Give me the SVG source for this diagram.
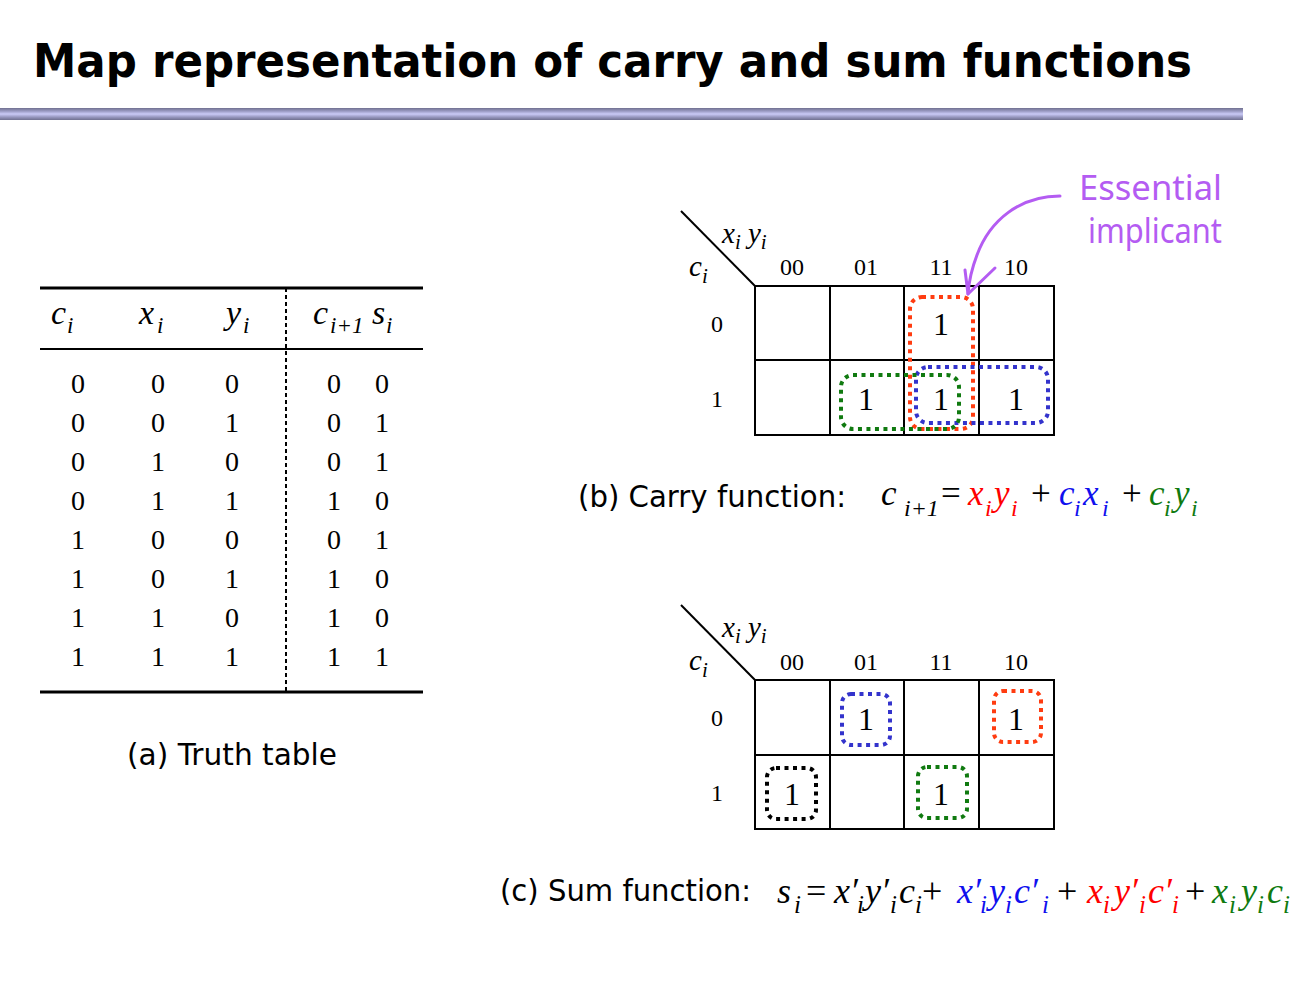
<svg xmlns="http://www.w3.org/2000/svg" width="1312" height="1000" viewBox="0 0 1312 1000">
<defs>
<linearGradient id="bar" x1="0" y1="0" x2="0" y2="1">
<stop offset="0" stop-color="#707090"/>
<stop offset="0.25" stop-color="#9898c0"/>
<stop offset="0.5" stop-color="#cacaf6"/>
<stop offset="0.75" stop-color="#9898c0"/>
<stop offset="1" stop-color="#707090"/>
</linearGradient>
</defs>
<style>
.it{font-family:"Liberation Serif","Times New Roman",serif;font-style:italic}
.up{font-style:normal}
.num{font-family:"Liberation Serif","Times New Roman",serif;font-size:28px;text-anchor:middle}
.cap{font-family:"DejaVu Sans","Liberation Sans",sans-serif;font-size:30px;fill:#000}
.grid{fill:none;stroke:#000;stroke-width:2}
.loop{fill:none;stroke-width:4;stroke-dasharray:4 4.5}
.hand{font-family:"Noto Sans","DejaVu Sans",sans-serif;font-weight:400;fill:#b45cf2;font-size:34px}
.s1{font-size:24px}
.s2{font-size:25px}
.s0{font-size:23px}
</style>
<rect width="1312" height="1000" fill="#fff"/>
<text x="33" y="77" font-family="DejaVu Sans, Liberation Sans, sans-serif" font-weight="bold" font-size="46" textLength="1159" lengthAdjust="spacingAndGlyphs">Map representation of carry and sum functions</text>
<rect x="0" y="108" width="1243" height="12" fill="url(#bar)"/>

<g id="truth-table">
<line x1="40" y1="288" x2="423" y2="288" stroke="#000" stroke-width="3"/>
<line x1="40" y1="349" x2="423" y2="349" stroke="#000" stroke-width="2"/>
<line x1="40" y1="692" x2="423" y2="692" stroke="#000" stroke-width="3"/>
<line x1="286" y1="288" x2="286" y2="692" stroke="#000" stroke-width="2" stroke-dasharray="4 3"/>
<g class="it" font-size="34">
<text x="51" y="324">c<tspan class="s0" x="67" y="333">i</tspan></text>
<text x="139" y="324">x<tspan class="s0" x="157" y="333">i</tspan></text>
<text x="226" y="324">y<tspan class="s0" x="243" y="333">i</tspan></text>
<text x="313" y="324">c<tspan class="s0" x="330" y="333">i+1</tspan></text>
<text x="372" y="324">s<tspan class="s0" x="386" y="333">i</tspan></text>
</g>
<g class="num">
<text x="78" y="393">0</text><text x="158" y="393">0</text><text x="232" y="393">0</text><text x="334" y="393">0</text><text x="382" y="393">0</text>
<text x="78" y="432">0</text><text x="158" y="432">0</text><text x="232" y="432">1</text><text x="334" y="432">0</text><text x="382" y="432">1</text>
<text x="78" y="471">0</text><text x="158" y="471">1</text><text x="232" y="471">0</text><text x="334" y="471">0</text><text x="382" y="471">1</text>
<text x="78" y="510">0</text><text x="158" y="510">1</text><text x="232" y="510">1</text><text x="334" y="510">1</text><text x="382" y="510">0</text>
<text x="78" y="549">1</text><text x="158" y="549">0</text><text x="232" y="549">0</text><text x="334" y="549">0</text><text x="382" y="549">1</text>
<text x="78" y="588">1</text><text x="158" y="588">0</text><text x="232" y="588">1</text><text x="334" y="588">1</text><text x="382" y="588">0</text>
<text x="78" y="627">1</text><text x="158" y="627">1</text><text x="232" y="627">0</text><text x="334" y="627">1</text><text x="382" y="627">0</text>
<text x="78" y="666">1</text><text x="158" y="666">1</text><text x="232" y="666">1</text><text x="334" y="666">1</text><text x="382" y="666">1</text>
</g>
<text class="cap" x="127" y="765" textLength="210" lengthAdjust="spacingAndGlyphs">(a) Truth table</text>
</g>

<g id="carry-map">
<line x1="681" y1="211" x2="755" y2="286" stroke="#000" stroke-width="2"/>
<rect class="grid" x="755" y="286" width="299" height="149"/>
<line x1="755" y1="360" x2="1054" y2="360" stroke="#000" stroke-width="2"/>
<line x1="830" y1="286" x2="830" y2="435" stroke="#000" stroke-width="2"/>
<line x1="904" y1="286" x2="904" y2="435" stroke="#000" stroke-width="2"/>
<line x1="979" y1="286" x2="979" y2="435" stroke="#000" stroke-width="2"/>
<text class="it" x="722" y="243" font-size="29">x<tspan font-size="21" dy="6">i</tspan><tspan dy="-6"> y</tspan><tspan font-size="21" dy="6">i</tspan></text>
<text class="it" x="689" y="276" font-size="29">c<tspan font-size="21" dy="7">i</tspan></text>
<g class="num">
<text x="792" y="275" font-size="24">00</text><text x="866" y="275" font-size="24">01</text><text x="941" y="275" font-size="24">11</text><text x="1016" y="275" font-size="24">10</text>
<text x="717" y="332" font-size="24">0</text><text x="717" y="407" font-size="24">1</text>
<text x="941" y="335" font-size="32">1</text>
<text x="866" y="410" font-size="32">1</text>
<text x="941" y="410" font-size="32">1</text>
<text x="1016" y="410" font-size="32">1</text>
</g>
<rect class="loop" x="910" y="297" width="63" height="132" rx="12" stroke="#ff3c10"/>
<rect class="loop" x="916" y="367" width="132" height="56" rx="12" stroke="#3333cc"/>
<rect class="loop" x="841" y="375" width="118" height="54" rx="12" stroke="#107a10"/>
<text class="cap" x="578" y="507" textLength="268" lengthAdjust="spacingAndGlyphs">(b) Carry function:</text>
<text class="it" y="505" font-size="35"><tspan x="881">c</tspan><tspan class="s1" x="904" y="516">i+1</tspan><tspan class="up" x="941" y="505">=</tspan><tspan fill="#ff0000"><tspan x="968" y="505">x</tspan><tspan class="s1" x="985" y="516">i</tspan><tspan x="994" y="505">y</tspan><tspan class="s1" x="1011" y="516">i</tspan></tspan><tspan class="up" x="1031" y="505">+</tspan><tspan fill="#1010ee"><tspan x="1059" y="505">c</tspan><tspan class="s1" x="1074" y="516">i</tspan><tspan x="1083" y="505">x</tspan><tspan class="s1" x="1102" y="516">i</tspan></tspan><tspan class="up" x="1122" y="505">+</tspan><tspan fill="#107a10"><tspan x="1149" y="505">c</tspan><tspan class="s1" x="1164" y="516">i</tspan><tspan x="1174" y="505">y</tspan><tspan class="s1" x="1191" y="516">i</tspan></tspan></text>
</g>

<g id="annotation">
<text class="hand" x="1079" y="200" textLength="143" lengthAdjust="spacingAndGlyphs">Essential</text>
<text class="hand" x="1088" y="243" textLength="134" lengthAdjust="spacingAndGlyphs">implicant</text>
</g>
<g id="connectors">
<path d="M1060,196 C1020,196 990,220 977,255 C972,268 969,280 968,294" fill="none" stroke="#b45cf2" stroke-width="3" stroke-linecap="round"/>
<path d="M965,270 L968,294 L995,268" fill="none" stroke="#b45cf2" stroke-width="3" stroke-linecap="round" stroke-linejoin="round"/>
</g>

<g id="sum-map">
<line x1="681" y1="605" x2="755" y2="680" stroke="#000" stroke-width="2"/>
<rect class="grid" x="755" y="680" width="299" height="149"/>
<line x1="755" y1="755" x2="1054" y2="755" stroke="#000" stroke-width="2"/>
<line x1="830" y1="680" x2="830" y2="829" stroke="#000" stroke-width="2"/>
<line x1="904" y1="680" x2="904" y2="829" stroke="#000" stroke-width="2"/>
<line x1="979" y1="680" x2="979" y2="829" stroke="#000" stroke-width="2"/>
<text class="it" x="722" y="637" font-size="29">x<tspan font-size="21" dy="6">i</tspan><tspan dy="-6"> y</tspan><tspan font-size="21" dy="6">i</tspan></text>
<text class="it" x="689" y="670" font-size="29">c<tspan font-size="21" dy="7">i</tspan></text>
<g class="num">
<text x="792" y="670" font-size="24">00</text><text x="866" y="670" font-size="24">01</text><text x="941" y="670" font-size="24">11</text><text x="1016" y="670" font-size="24">10</text>
<text x="717" y="726" font-size="24">0</text><text x="717" y="801" font-size="24">1</text>
<text x="866" y="730" font-size="32">1</text>
<text x="1016" y="730" font-size="32">1</text>
<text x="792" y="805" font-size="32">1</text>
<text x="941" y="805" font-size="32">1</text>
</g>
<rect class="loop" x="842" y="694" width="48" height="51" rx="9" stroke="#3333cc"/>
<rect class="loop" x="994" y="691" width="47" height="51" rx="9" stroke="#ff3c10"/>
<rect class="loop" x="767" y="768" width="49" height="51" rx="9" stroke="#000"/>
<rect class="loop" x="918" y="767" width="49" height="51" rx="9" stroke="#107a10"/>
<text class="cap" x="500" y="901" textLength="251" lengthAdjust="spacingAndGlyphs">(c) Sum function:</text>
<text class="it" y="903" font-size="36"><tspan x="777">s</tspan><tspan class="s2" x="794" y="913">i</tspan><tspan class="up" x="806" y="903">=</tspan><tspan x="834" y="903">x′</tspan><tspan class="s2" x="857" y="913">i</tspan><tspan x="865" y="903">y′</tspan><tspan class="s2" x="890" y="913">i</tspan><tspan x="899" y="903">c</tspan><tspan class="s2" x="915" y="913">i</tspan><tspan class="up" x="922" y="903">+</tspan><tspan fill="#1010ee"><tspan x="957" y="903">x′</tspan><tspan class="s2" x="980" y="913">i</tspan><tspan x="989" y="903">y</tspan><tspan class="s2" x="1005" y="913">i</tspan><tspan x="1014" y="903">c′</tspan><tspan class="s2" x="1042" y="913">i</tspan></tspan><tspan class="up" x="1057" y="903">+</tspan><tspan fill="#ff0000"><tspan x="1087" y="903">x</tspan><tspan class="s2" x="1103" y="913">i</tspan><tspan x="1114" y="903">y′</tspan><tspan class="s2" x="1139" y="913">i</tspan><tspan x="1148" y="903">c′</tspan><tspan class="s2" x="1172" y="913">i</tspan></tspan><tspan class="up" x="1185" y="903">+</tspan><tspan fill="#107a10"><tspan x="1212" y="903">x</tspan><tspan class="s2" x="1229" y="913">i</tspan><tspan x="1241" y="903">y</tspan><tspan class="s2" x="1257" y="913">i</tspan><tspan x="1267" y="903">c</tspan><tspan class="s2" x="1283" y="913">i</tspan></tspan></text>
</g>
</svg>
